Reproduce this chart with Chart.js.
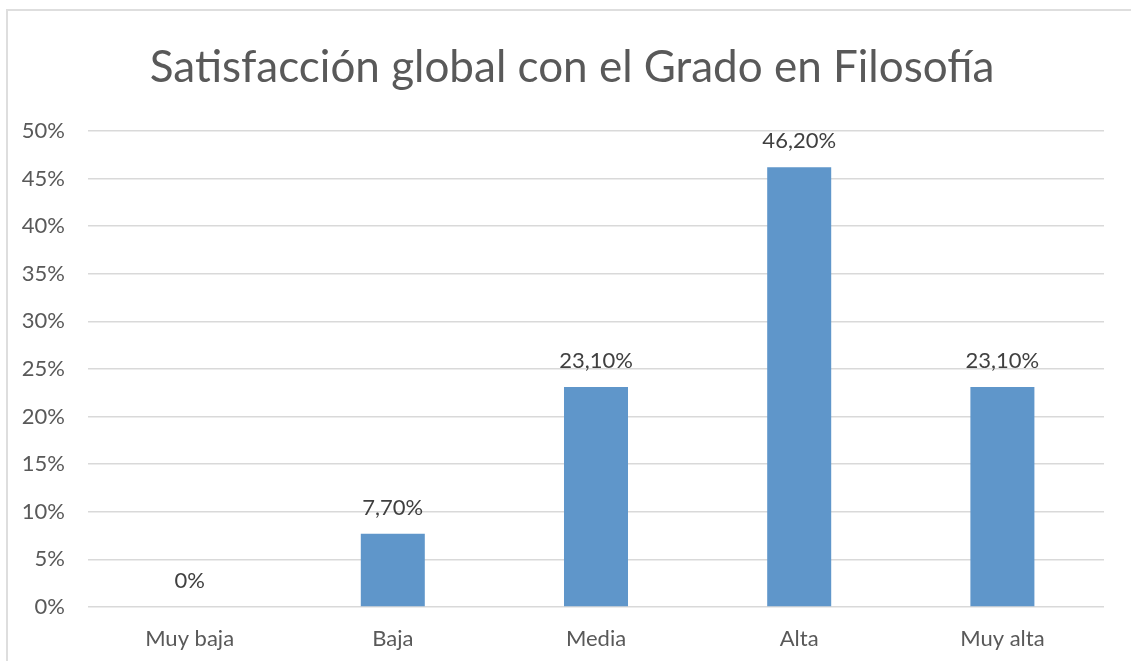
<!DOCTYPE html>
<html>
<head>
<meta charset="utf-8">
<script src="https://cdn.jsdelivr.net/npm/chart.js@4"></script>
<style>
  html, body { margin: 0; padding: 0; background: #fff; overflow: hidden; }
  #marco { position: absolute; left: 6px; top: 9px; width: 1200px; height: 700px; border: 2px solid #dedede; box-sizing: border-box; }
  #caja { position: absolute; left: 0; top: 0; width: 1131px; height: 661px; }
</style>
</head>
<body>
<div id="marco"></div>
<div id="caja"><canvas id="grafico"></canvas></div>
<script>
// datos de la encuesta (porcentaje de respuestas)
var titulo = 'Satisfacción global con el Grado en Filosofía';
var categorias = ['Muy baja', 'Baja', 'Media', 'Alta', 'Muy alta'];
var porcentajes = [0, 7.7, 23.1, 46.2, 23.1];
var ejeMax = 50;
var ejePaso = 5;

function formatoEtiqueta(v) {
    if (v === 0) return '0%';
    return v.toFixed(2).replace('.', ',') + '%';
}

// titulo centrado sobre el marco (no sobre el area del grafico)
var tituloMarco = {
    id: 'tituloMarco',
    afterDraw: function(chart) {
        var ctx = chart.ctx;
        ctx.save();
        ctx.font = '44px Lato';
        ctx.fillStyle = '#595959';
        ctx.textAlign = 'center';
        ctx.textBaseline = 'middle';
        ctx.fillText(titulo, 572, 68);
        ctx.restore();
    }
};

// etiquetas encima de cada barra
var etiquetasBarras = {
    id: 'etiquetasBarras',
    afterDatasetsDraw: function(chart) {
        var ctx = chart.ctx;
        var meta = chart.getDatasetMeta(0);
        ctx.save();
        ctx.font = '22px Lato';
        ctx.fillStyle = '#404040';
        ctx.textAlign = 'center';
        ctx.textBaseline = 'middle';
        meta.data.forEach(function(bar, i) {
            ctx.fillText(formatoEtiqueta(porcentajes[i]), bar.x, bar.y - 26);
        });
        ctx.restore();
    }
};

new Chart(document.getElementById('grafico'), {
    type: 'bar',
    data: {
        labels: categorias,
        datasets: [{
            data: porcentajes,
            backgroundColor: '#5f96ca',
            categoryPercentage: 1,
            barPercentage: 0.315
        }]
    },
    options: {
        responsive: true,
        maintainAspectRatio: false,
        animation: false,
        layout: { padding: { top: 131, right: 27, bottom: 0, left: 0 } },
        plugins: {
            legend: { display: false },
            tooltip: { enabled: false },
            title: { display: false }
        },
        scales: {
            x: {
                afterFit: function(scale) { scale.height = 54; },
                grid: { display: false },
                border: { display: false },
                ticks: { color: '#595959', font: { family: 'Lato', size: 22 }, padding: 11 }
            },
            y: {
                min: 0,
                max: ejeMax,
                afterFit: function(scale) { scale.width = 88; },
                grid: { color: '#d9d9d9', lineWidth: 1.5, drawTicks: false },
                border: { display: false },
                ticks: {
                    stepSize: ejePaso,
                    color: '#595959',
                    font: { family: 'Lato', size: 22 },
                    padding: 23,
                    callback: function(v) { return v + '%'; }
                }
            }
        }
    },
    plugins: [etiquetasBarras, tituloMarco]
});
</script>
</body>
</html>
